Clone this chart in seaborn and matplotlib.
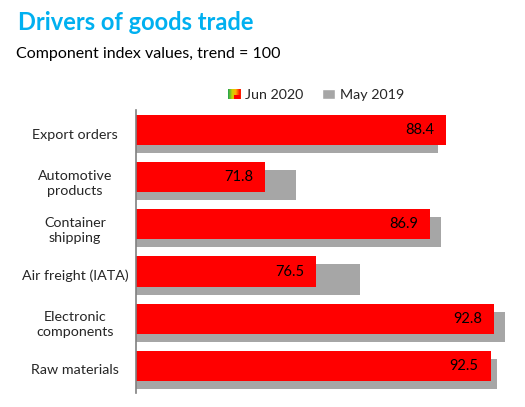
import numpy as np
import matplotlib
matplotlib.use("Agg")
import matplotlib.pyplot as plt
import matplotlib.patches as mpatches
from matplotlib.colors import LinearSegmentedColormap
from matplotlib.legend_handler import HandlerBase
import seaborn as sns
import pandas as pd

categories = ["Export orders", "Automotive\nproducts", "Container\nshipping",
              "Air freight (IATA)", "Electronic\ncomponents", "Raw materials"]
jun_2020 = [88.4, 71.8, 86.9, 76.5, 92.8, 92.5]
may_2019 = [87.7, 74.6, 87.9, 80.5, 93.8, 93.1]

sns.set_theme(style="white")
plt.rcParams["font.family"] = ["Lato", "DejaVu Sans"]

RED = "#FF0000"
GRAY = "#A6A6A6"
BAR_H = 0.64


class GradientHandler(HandlerBase):
    # small green -> yellow -> red swatch, like the source legend
    def create_artists(self, legend, orig_handle, xdescent, ydescent, width, height, fontsize, trans):
        cmap = LinearSegmentedColormap.from_list("g", ["#2EA84A", "#C8D400", "#FFB000", "#FF1A00"])
        n = 12
        arts = []
        for i in range(n):
            r = mpatches.Rectangle((-xdescent + i * width / n, -ydescent), width / n + 0.2, height,
                                   facecolor=cmap(i / (n - 1)), edgecolor="none", transform=trans)
            arts.append(r)
        arts.append(mpatches.Rectangle((-xdescent + width * 0.5, -ydescent), width * 0.5, height * 0.45,
                                       facecolor=RED, edgecolor="none", transform=trans))
        return arts


df = pd.DataFrame({"cat": categories, "jun": jun_2020, "may": may_2019})

fig = plt.figure(figsize=(5.25, 4.07), dpi=100)
ax = fig.add_axes([136.3 / 525, 1 - 393 / 407, (518 - 136.3) / 525, (393 - 110) / 407])

sns.barplot(data=df, x="may", y="cat", color=GRAY, width=BAR_H, saturation=1, ax=ax)
n_gray = len(ax.patches)
sns.barplot(data=df, x="jun", y="cat", color=RED, width=BAR_H, saturation=1, ax=ax)
for i, p in enumerate(ax.patches):
    p.set_edgecolor("none")
    p.set_y(p.get_y() + (0.095 if i < n_gray else -0.075))

for i, v in enumerate(jun_2020):
    ax.text(v - 1.1, i - 0.075, f"{v:.1f}", ha="right", va="center", fontsize=10.5, color="black")

ax.set_xlim(60, 95)
ax.set_ylim(5.5, -0.5)
ax.set_xlabel("")
ax.set_ylabel("")
ax.set_xticks([])
for s in ["top", "right", "bottom"]:
    ax.spines[s].set_visible(False)
ax.spines["left"].set_color("#808080")
ax.spines["left"].set_linewidth(1.2)
ax.set_yticks(range(len(categories)))
ax.set_yticklabels(categories, fontsize=10.3, ha="center", linespacing=1.3)
ax.tick_params(axis="y", which="major", length=0, pad=44)
ax.set_yticks(np.arange(-0.5, len(categories), 1), minor=True)
ax.tick_params(axis="y", which="minor", length=4, width=1.2, color="#808080", direction="out")

fig.text(18 / 525, 1 - 22 / 407, "Drivers of goods trade", fontsize=17, fontweight="bold",
         color="#00B0F0", va="center", ha="left")
fig.text(16 / 525, 1 - 54 / 407, "Component index values, trend = 100", fontsize=11.5,
         color="black", va="center", ha="left")

h1 = mpatches.Rectangle((0, 0), 1, 1, facecolor=RED)
h2 = mpatches.Rectangle((0, 0), 1, 1, facecolor=GRAY)
fig.legend([h1, h2], ["Jun 2020", "May 2019"], loc="center", bbox_to_anchor=(316 / 525, 1 - 95 / 407),
           ncol=2, frameon=False, fontsize=10.3, handlelength=0.9, handleheight=0.75, handletextpad=0.35,
           columnspacing=1.3, handler_map={h1: GradientHandler()})

fig.savefig("out.png", dpi=100)
